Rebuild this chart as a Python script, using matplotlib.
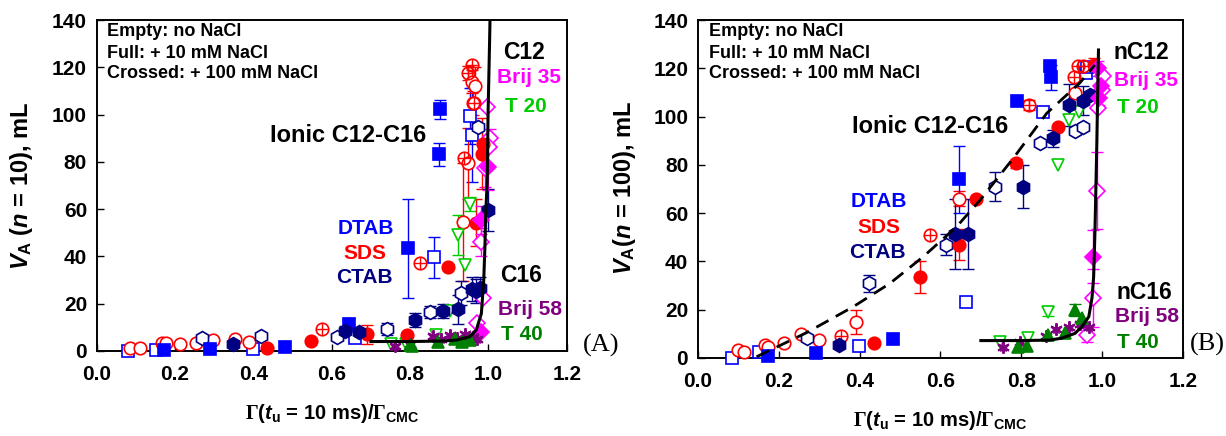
import matplotlib
matplotlib.use("Agg")
import matplotlib.pyplot as plt

plt.rcParams['font.family'] = ['Liberation Sans', 'DejaVu Sans']
plt.rcParams['font.weight'] = 'bold'
plt.rcParams['mathtext.fontset'] = 'custom'
plt.rcParams['mathtext.rm'] = 'Liberation Serif'
plt.rcParams['mathtext.it'] = 'Liberation Sans:italic:bold'
plt.rcParams['mathtext.bf'] = 'Liberation Sans:bold'

# ---------------- Panel A data (n = 10) ----------------
A_dtab10_x = [0.173, 0.29, 0.481, 0.645, 0.795, 0.874, 0.877]
A_dtab10_y = [0.3, 0.7, 1.7, 11.6, 43.4, 83.2, 102.2]
A_dtab10_e = [0, 0, 0, 2.2, 21, 4.8, 4]
A_dtab0_x = [0.081, 0.151, 0.398, 0.66, 0.861, 0.954, 0.959]
A_dtab0_y = [0.0, 0.3, 0.7, 5.7, 39.6, 99.4, 91.4]
A_dtab0_e = [0, 0, 0, 0, 8.8, 12, 20]

A_sds0_x = [0.086, 0.111, 0.166, 0.176, 0.212, 0.254, 0.297, 0.354, 0.39, 0.935, 0.948, 0.958, 0.965, 0.96]
A_sds0_y = [1.1, 1.4, 3.3, 3.2, 3.1, 3.5, 4.5, 5.0, 3.7, 54.7, 79.4, 114, 112, 105]
A_sds0_e = [0, 0, 0, 0, 0, 0, 0, 0, 0, 25, 15, 5, 8, 5]
A_sds10_x = [0.435, 0.546, 0.689, 0.791, 0.897, 0.968, 0.983, 0.985]
A_sds10_y = [1.4, 4.2, 7.1, 6.8, 35.4, 54.3, 83.4, 87.4]
A_sds10_e = [0, 0, 4, 0, 0, 10, 15, 0]
A_sds100_x = [0.575, 0.825, 0.937, 0.948, 0.957, 0.963]
A_sds100_y = [9.2, 37.1, 81.5, 117.5, 121, 105]
A_sds100_e = [0, 0, 0, 3, 0, 0]

A_ctab0_x = [0.269, 0.42, 0.613, 0.741, 0.85, 0.931, 0.974]
A_ctab0_y = [5.4, 6.4, 5.9, 9.2, 16.6, 24.4, 94.6]
A_ctab0_e = [0, 0, 0, 2.5, 2.5, 5, 0]
A_ctab10_x = [0.349, 0.635, 0.669, 0.812, 0.883, 0.922, 0.957, 0.968, 0.978, 0.999]
A_ctab10_y = [3.1, 8.5, 8.2, 13.1, 17.0, 17.6, 26.1, 25.5, 26.5, 59.6]
A_ctab10_e = [0, 2, 0, 3, 3, 6, 5, 5, 5, 9]

A_brij35_0_x = [0.997, 1.003, 1.002, 0.991, 0.982, 0.986, 0.971]
A_brij35_0_y = [103.3, 90, 86.4, 77.3, 46.2, 22.3, 11.7]
A_brij35_0_e = [0, 4, 0, 8, 6, 0, 0]
A_brij35_10_x = [1.0, 0.982, 0.982]
A_brij35_10_y = [78, 55.4, 8.2]
A_brij35_10_e = [10, 6, 0]

A_t20_x = [0.952, 0.922, 0.94, 0.867, 0.751, 0.79, 0.903]
A_t20_y = [62.2, 49, 36.4, 6.8, 2.8, 3.0, 17]
A_t20_e = [3, 8.5, 0, 0, 0, 0, 0]
A_t40_x = [0.799, 0.806, 0.871, 0.914, 0.932, 0.952]
A_t40_y = [2.5, 2.1, 3.9, 4.9, 4.0, 4.6]
A_brij58_x = [0.761, 0.80, 0.859, 0.88, 0.901, 0.92, 0.94, 0.96, 0.97]
A_brij58_y = [2.0, 3.0, 6.3, 5.0, 6.8, 5.5, 7.0, 6.0, 5.0]

A_curve_x = [0.70, 0.80, 0.88, 0.918, 0.952, 0.969, 0.982, 0.988, 0.991, 0.993, 0.997, 0.999, 1.003, 1.004]
A_curve_y = [4.0, 4.0, 4.2, 4.6, 6.0, 8.9, 15.9, 30, 44, 58, 72, 100, 131.5, 140]

# ---------------- Panel B data (n = 100) ----------------
B_dtab10_x = [0.174, 0.291, 0.482, 0.647, 0.79, 0.871, 0.873]
B_dtab10_y = [0.7, 2.0, 8.0, 74, 106.6, 121, 116.2]
B_dtab10_e = [0, 0, 2, 14, 0, 0, 5]
B_dtab0_x = [0.083, 0.152, 0.398, 0.663, 0.854, 0.96, 0.962]
B_dtab0_y = [0.0, 2.6, 5.1, 23, 101.8, 117.9, 120.6]
B_dtab0_e = [0, 0, 0, 0, 0, 0, 0]

B_sds0_x = [0.1, 0.113, 0.167, 0.174, 0.213, 0.255, 0.299, 0.39, 0.645, 0.933]
B_sds0_y = [3.2, 2.3, 5.2, 4.4, 6.2, 9.9, 7.5, 15, 66, 109.6]
B_sds0_e = [0, 0, 0, 0, 0, 0, 0, 5, 3, 0]
B_sds10_x = [0.435, 0.549, 0.647, 0.689, 0.787, 0.892, 0.98]
B_sds10_y = [6.4, 33.6, 47, 66, 80.6, 95.6, 121.4]
B_sds10_e = [0, 6.5, 6.5, 0, 2, 0, 3]
B_sds100_x = [0.354, 0.574, 0.82, 0.93, 0.941, 0.953]
B_sds100_y = [9.0, 50.8, 104.8, 116.2, 121, 121]
B_sds100_e = [0, 0, 2, 0, 0, 0]

B_ctab0_x = [0.271, 0.422, 0.613, 0.735, 0.846, 0.933, 0.953]
B_ctab0_y = [8.2, 30.9, 47, 71, 89.2, 94.2, 95.6]
B_ctab0_e = [0, 3.5, 4.5, 6, 0, 0, 0]
B_ctab10_x = [0.349, 0.636, 0.669, 0.805, 0.878, 0.919, 0.952, 0.97]
B_ctab10_y = [5.5, 51.5, 51.5, 71, 91, 104.8, 106.6, 109]
B_ctab10_e = [0, 14.5, 14.5, 9, 3.5, 8.5, 6, 0]

B_brij35_0_x = [1.001, 1.0, 0.991, 0.988, 0.978, 0.962]
B_brij35_0_y = [116.7, 111, 103.6, 69.3, 24.7, 9.5]
B_brij35_0_e = [0, 0, 0, 16, 12, 3]
B_brij35_10_x = [0.978, 0.993, 0.996, 0.99]
B_brij35_10_y = [42, 107.7, 112.5, 120]
B_brij35_10_e = [11, 3, 0, 3]

B_t20_x = [0.747, 0.817, 0.865, 0.892, 0.917, 0.942]
B_t20_y = [6.8, 8.2, 19.2, 79.9, 98.6, 102]
B_t20_e = [0, 0, 2, 0, 0, 0]
B_t40_x = [0.793, 0.813, 0.865, 0.907, 0.933, 0.949]
B_t40_y = [4.7, 5.0, 9.5, 10.2, 19.9, 16.4]
B_t40_e = [0, 0, 0, 0, 2.5, 0]
B_brij58_x = [0.755, 0.797, 0.86, 0.887, 0.917, 0.946, 0.967]
B_brij58_y = [4.7, 6.8, 8.9, 12.2, 13.0, 14.0, 13.0]

B_dash_x = [0.145, 0.269, 0.384, 0.475, 0.557, 0.64, 0.698, 0.78, 0.863, 0.945, 0.982]
B_dash_y = [0.5, 10.5, 21.2, 30.9, 41.9, 54.4, 65.4, 82.7, 101.4, 114, 121.4]
B_curve_x = [0.70, 0.80, 0.87, 0.90, 0.933, 0.95, 0.967, 0.975, 0.979, 0.982, 0.984, 0.987, 0.989, 0.991]
B_curve_y = [7.2, 7.2, 7.4, 8.2, 10.2, 13, 17.1, 25, 33.7, 51, 66, 90, 110, 127.6]

BLUE = '#0000ff'
RED = '#ff0000'
NAVY = '#000080'
MAG = '#ff00ff'
LGREEN = '#00cc00'
DGREEN = '#008000'
PURPLE = '#800080'

fig = plt.figure(figsize=(12.26, 4.36), dpi=100)
axA = fig.add_axes([0.0789, 0.195, 0.3834, 0.759])
axB = fig.add_axes([0.5693, 0.179, 0.3956, 0.775])


def errs(ax, x, y, e, c):
    xs = [a for a, b in zip(x, e) if b > 0]
    ys = [a for a, b in zip(y, e) if b > 0]
    es = [b for b in e if b > 0]
    if xs:
        ax.errorbar(xs, ys, yerr=es, fmt='none', ecolor=c, elinewidth=1.0,
                    capsize=4, capthick=1.0, zorder=2)


def pts(ax, x, y, marker, c, filled, ms=7.5, e=None, crossed=False):
    if e is not None:
        errs(ax, x, y, e, c)
    ax.plot(x, y, linestyle='none', marker=marker, ms=ms,
            mfc=c if filled else 'white' if not crossed else 'none',
            mec=c, mew=1.2, zorder=3, clip_on=False)
    if crossed:
        ax.plot(x, y, linestyle='none', marker='+', ms=ms, mec=c, mew=1.0, zorder=3, clip_on=False)


def panel(ax, d, curve, dash=None):
    ax.set_xlim(0, 1.2)
    ax.set_ylim(0, 140)
    ax.set_xticks([0, 0.2, 0.4, 0.6, 0.8, 1.0, 1.2])
    ax.set_xticklabels(['0.0', '0.2', '0.4', '0.6', '0.8', '1.0', '1.2'])
    ax.set_yticks(range(0, 141, 20))
    ax.tick_params(direction='in', length=5, width=1, labelsize=15)
    ax.tick_params(axis='x', pad=10)
    ax.tick_params(axis='y', pad=7)
    for lab in ax.get_xticklabels() + ax.get_yticklabels():
        lab.set_fontweight('bold')
    for s in ax.spines.values():
        s.set_linewidth(1.4)
    # Open markers (no NaCl)
    pts(ax, d['dtab0'][0], d['dtab0'][1], 's', BLUE, False, 8, d['dtab0'][2])
    pts(ax, d['sds0'][0], d['sds0'][1], 'o', RED, False, 9, d['sds0'][2])
    pts(ax, d['ctab0'][0], d['ctab0'][1], 'h', NAVY, False, 10, d['ctab0'][2])
    pts(ax, d['b35_0'][0], d['b35_0'][1], 'D', MAG, False, 8, d['b35_0'][2])
    pts(ax, d['t20'][0], d['t20'][1], 'v', LGREEN, False, 9, d['t20'][2])
    # crossed
    pts(ax, d['sds100'][0], d['sds100'][1], 'o', RED, False, 9, d['sds100'][2], crossed=True)
    # filled (10 mM)
    pts(ax, d['dtab10'][0], d['dtab10'][1], 's', BLUE, True, 8, d['dtab10'][2])
    pts(ax, d['sds10'][0], d['sds10'][1], 'o', RED, True, 9, d['sds10'][2])
    pts(ax, d['ctab10'][0], d['ctab10'][1], 'h', NAVY, True, 10, d['ctab10'][2])
    pts(ax, d['b35_10'][0], d['b35_10'][1], 'D', MAG, True, 8, d['b35_10'][2])
    ax.plot(d['b58'][0], d['b58'][1], linestyle='none', marker=(6, 2, 0), ms=9,
            mec=PURPLE, mew=1.4, zorder=3, clip_on=False)
    ax.plot(d['b58'][0], d['b58'][1], linestyle='none', marker='*', ms=7,
            mfc='none', mec=PURPLE, mew=0.8, zorder=3, clip_on=False)
    pts(ax, d['t40'][0], d['t40'][1], '^', DGREEN, True, 9, d['t40'][2])
    if dash is not None:
        ax.plot(dash[0], dash[1], color='black', lw=2.0, ls=(0, (5, 3)), zorder=4)
    ax.plot(curve[0], curve[1], color='black', lw=2.2, zorder=4)


dA = {
    'dtab0': (A_dtab0_x, A_dtab0_y, A_dtab0_e), 'dtab10': (A_dtab10_x, A_dtab10_y, A_dtab10_e),
    'sds0': (A_sds0_x, A_sds0_y, A_sds0_e), 'sds10': (A_sds10_x, A_sds10_y, A_sds10_e),
    'sds100': (A_sds100_x, A_sds100_y, A_sds100_e),
    'ctab0': (A_ctab0_x, A_ctab0_y, A_ctab0_e), 'ctab10': (A_ctab10_x, A_ctab10_y, A_ctab10_e),
    'b35_0': (A_brij35_0_x, A_brij35_0_y, A_brij35_0_e), 'b35_10': (A_brij35_10_x, A_brij35_10_y, A_brij35_10_e),
    't20': (A_t20_x, A_t20_y, A_t20_e), 't40': (A_t40_x, A_t40_y, [0] * len(A_t40_x)),
    'b58': (A_brij58_x, A_brij58_y),
}
dB = {
    'dtab0': (B_dtab0_x, B_dtab0_y, B_dtab0_e), 'dtab10': (B_dtab10_x, B_dtab10_y, B_dtab10_e),
    'sds0': (B_sds0_x, B_sds0_y, B_sds0_e), 'sds10': (B_sds10_x, B_sds10_y, B_sds10_e),
    'sds100': (B_sds100_x, B_sds100_y, B_sds100_e),
    'ctab0': (B_ctab0_x, B_ctab0_y, B_ctab0_e), 'ctab10': (B_ctab10_x, B_ctab10_y, B_ctab10_e),
    'b35_0': (B_brij35_0_x, B_brij35_0_y, B_brij35_0_e), 'b35_10': (B_brij35_10_x, B_brij35_10_y, B_brij35_10_e),
    't20': (B_t20_x, B_t20_y, B_t20_e), 't40': (B_t40_x, B_t40_y, B_t40_e),
    'b58': (B_brij58_x, B_brij58_y),
}

panel(axA, dA, (A_curve_x, A_curve_y))
panel(axB, dB, (B_curve_x, B_curve_y), dash=(B_dash_x, B_dash_y))


def annotate(ax, pos, c12, c16):
    tr = ax.transAxes
    for (txt, yy) in zip(['Empty: no NaCl', 'Full: + 10 mM NaCl', 'Crossed: + 100 mM NaCl'],
                         pos['leg']):
        ax.text(pos['legx'], yy, txt, transform=tr, fontsize=13, fontweight='bold',
                ha='left', va='center', color='black')
    ax.text(*pos['ionic'], 'Ionic C12-C16', transform=tr, fontsize=17, fontweight='bold',
            ha='center', va='center')
    for txt, p, c in [('DTAB', pos['dtab'], BLUE), ('SDS', pos['sds'], RED), ('CTAB', pos['ctab'], NAVY)]:
        ax.text(*p, txt, transform=tr, fontsize=15, fontweight='bold', ha='center', va='center', color=c)
    ax.text(*pos['c12'], c12, transform=tr, fontsize=16.5, fontweight='bold', ha='center', va='center')
    ax.text(*pos['b35'], 'Brij 35', transform=tr, fontsize=15, fontweight='bold', ha='center', va='center', color=MAG)
    ax.text(*pos['t20'], 'T 20', transform=tr, fontsize=15, fontweight='bold', ha='center', va='center', color=LGREEN)
    ax.text(*pos['c16'], c16, transform=tr, fontsize=16.5, fontweight='bold', ha='center', va='center')
    ax.text(*pos['b58'], 'Brij 58', transform=tr, fontsize=15, fontweight='bold', ha='center', va='center', color=PURPLE)
    ax.text(*pos['t40'], 'T 40', transform=tr, fontsize=15, fontweight='bold', ha='center', va='center', color=DGREEN)


annotate(axA, {'legx': 0.021, 'leg': [0.964, 0.900, 0.837], 'ionic': (0.534, 0.65),
               'dtab': (0.573, 0.371), 'sds': (0.571, 0.295), 'ctab': (0.569, 0.221),
               'c12': (0.910, 0.903), 'b35': (0.919, 0.827), 't20': (0.912, 0.738),
               'c16': (0.902, 0.227), 'b58': (0.922, 0.126), 't40': (0.904, 0.049)}, 'C12', 'C16')
annotate(axB, {'legx': 0.022, 'leg': [0.965, 0.902, 0.841], 'ionic': (0.479, 0.684),
               'dtab': (0.373, 0.464), 'sds': (0.373, 0.386), 'ctab': (0.370, 0.313),
               'c12': (0.915, 0.905), 'b35': (0.923, 0.821), 't20': (0.907, 0.740),
               'c16': (0.920, 0.195), 'b58': (0.925, 0.124), 't40': (0.907, 0.046)}, 'nC12', 'nC16')

xlab = r'$\Gamma$(' + r'$\it{t}_{\bf{u}}$' + ' = 10 ms)/' + r'$\Gamma_{\bf{CMC}}$'
fig.text(332 / 1226, 1 - 413 / 436, xlab, fontsize=14.5, fontweight='bold', ha='center', va='center')
fig.text(940 / 1226, 1 - 420 / 436, xlab, fontsize=14.5, fontweight='bold', ha='center', va='center')
fig.text(22 / 1226, 1 - 186 / 436, r'$\it{V}_{\bf{A}}$ ($\it{n}$ = 10), mL', rotation=90,
         fontsize=17, fontweight='bold', ha='center', va='center')
fig.text(624 / 1226, 1 - 188 / 436, r'$\it{V}_{\bf{A}}$($\it{n}$ = 100), mL', rotation=90,
         fontsize=17, fontweight='bold', ha='center', va='center')
fig.text(601 / 1226, 1 - 345 / 436, '(A)', family='Liberation Serif', fontweight='normal',
         fontsize=19, ha='center', va='center')
fig.text(1207 / 1226, 1 - 344 / 436, '(B)', family='Liberation Serif', fontweight='normal',
         fontsize=19, ha='center', va='center')

fig.savefig('out.png', dpi=100)
